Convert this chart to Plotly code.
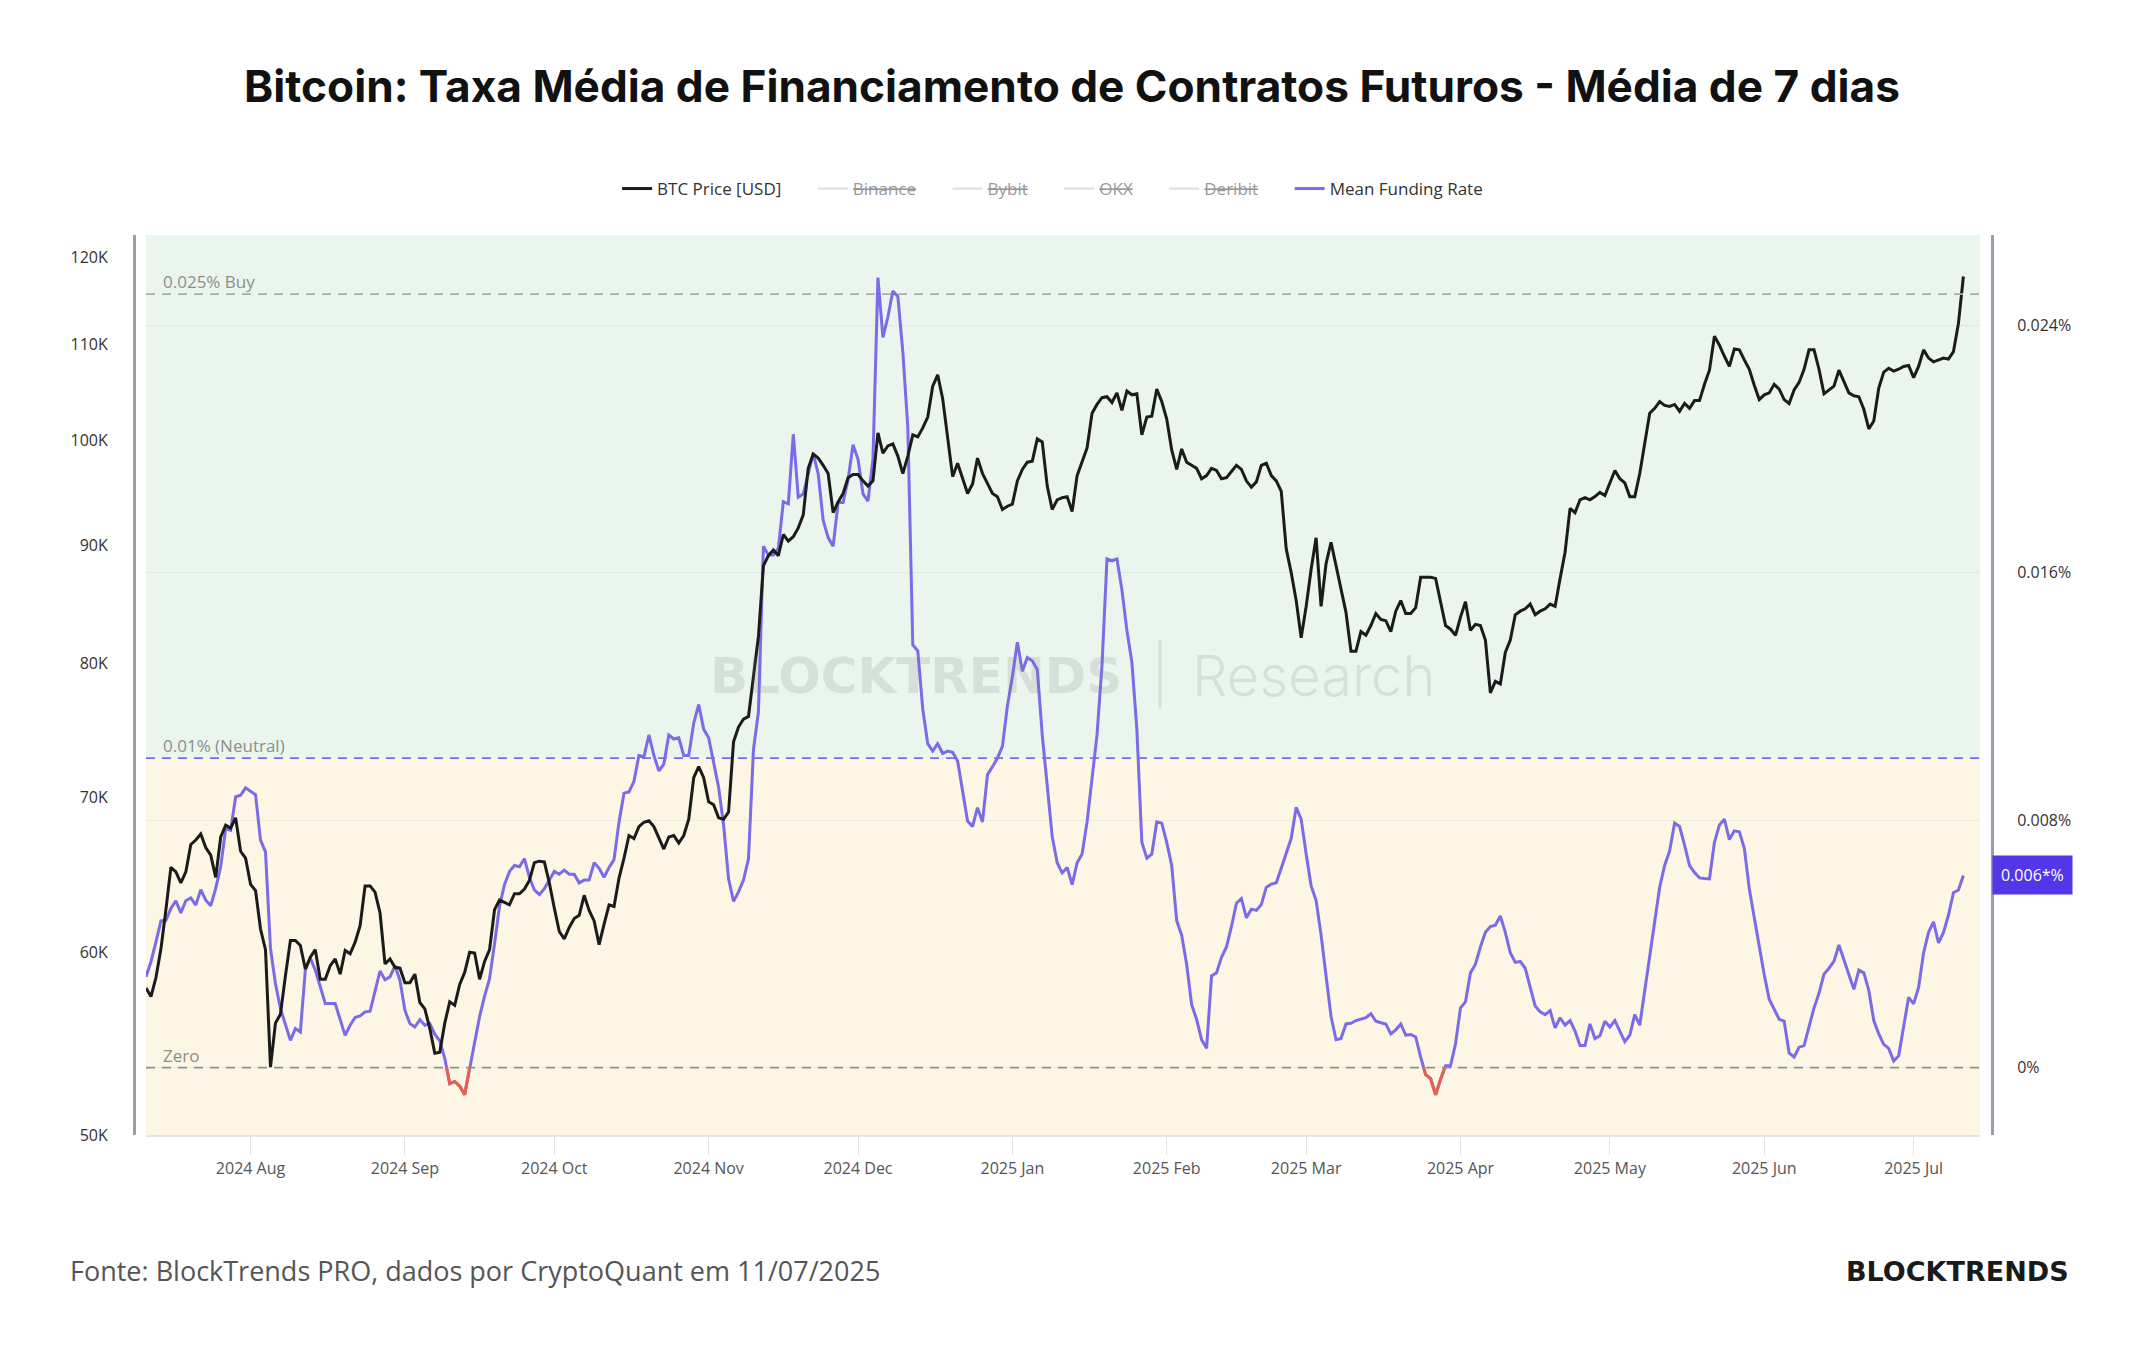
import math
import pandas as pd
import plotly.graph_objects as go

# ---------------- data ----------------
start_date = "2024-07-11"

btc_price_k = [
    57.9, 57.4, 58.5, 60.2, 62.6, 65.3, 65.0, 64.3, 65.0, 66.8,
    67.1, 67.5, 66.6, 66.1, 64.65, 67.3, 68.1, 67.9, 68.6, 66.35,
    65.9, 64.2, 63.8, 61.4, 60.15, 53.5, 55.9, 56.4, 58.6, 60.7,
    60.7, 60.4, 59.0, 59.7, 60.15, 58.4, 58.4, 59.2, 59.6, 58.7,
    60.1, 59.9, 60.6, 61.6, 64.1, 64.1, 63.7, 62.4, 59.3, 59.6,
    59.1, 59.05, 58.2, 58.2, 58.7, 57.06, 56.7, 55.6, 54.25, 54.3,
    55.9, 57.1, 56.9, 58.1, 58.8, 60.0, 59.95, 58.4, 59.45, 60.15,
    62.6, 63.2, 63.05, 62.9, 63.6, 63.6, 63.9, 64.45, 65.6, 65.7,
    65.65, 64.3, 62.7, 61.25, 60.8, 61.5, 62.05, 62.25, 63.5, 62.55,
    61.9, 60.45, 61.7, 62.9, 62.8, 64.6, 65.9, 67.4, 67.2, 68.0,
    68.3, 68.4, 68.0, 67.3, 66.5, 67.3, 67.4, 66.9, 67.4, 68.5,
    71.4, 72.2, 71.4, 69.7, 69.5, 68.6, 68.5, 69.0, 74.0, 75.1,
    75.7, 75.9, 78.85, 82.2, 88.2, 89.1, 89.6, 89.1, 91.0, 90.4,
    90.8, 91.6, 92.8, 97.2, 98.6, 98.2, 97.5, 96.7, 93.0, 94.0,
    94.8, 96.3, 96.6, 96.6, 96.0, 95.5, 96.0, 100.7, 98.7, 99.4,
    99.6, 98.4, 96.7, 98.4, 100.5, 100.3, 101.2, 102.3, 105.5, 106.7,
    104.2, 100.3, 96.4, 97.7, 96.3, 94.8, 95.7, 98.2, 96.7, 95.7,
    94.8, 94.5, 93.3, 93.6, 93.8, 96.0, 97.1, 97.8, 97.9, 100.1,
    99.8, 95.5, 93.3, 94.2, 94.4, 94.5, 93.1, 96.5, 97.8, 99.2,
    102.7, 103.6, 104.3, 104.4, 103.8, 104.8, 103.0, 105.0, 104.6, 104.7,
    100.5, 102.3, 102.4, 105.2, 103.9, 102.1, 99.0, 97.1, 99.1, 97.8,
    97.5, 97.2, 96.2, 96.5, 97.2, 97.0, 96.2, 96.3, 96.9, 97.5,
    97.1, 96.0, 95.4, 95.9, 97.5, 97.7, 96.5, 96.0, 95.0, 89.7,
    87.6, 85.2, 82.1, 84.7, 87.9, 90.7, 84.7, 88.4, 90.3, 88.2,
    86.1, 84.2, 81.0, 81.0, 82.6, 82.3, 83.1, 84.1, 83.6, 83.5,
    82.6, 84.3, 85.2, 84.1, 84.1, 84.6, 87.2, 87.2, 87.2, 87.1,
    85.0, 83.1, 82.8, 82.3, 83.8, 85.1, 82.7, 83.2, 83.1, 81.9,
    77.7, 78.6, 78.4, 80.9, 81.9, 84.0, 84.3, 84.5, 84.9, 84.0,
    84.3, 84.5, 84.9, 84.7, 87.1, 89.4, 93.4, 93.0, 94.2, 94.4,
    94.2, 94.5, 94.9, 94.6, 95.8, 97.0, 96.2, 95.8, 94.5, 94.5,
    96.7, 99.8, 102.7, 103.2, 103.9, 103.5, 103.4, 103.6, 102.9, 103.7,
    103.2, 104.0, 104.0, 105.7, 107.2, 110.9, 109.9, 108.7, 107.6, 109.5,
    109.4, 108.3, 107.3, 105.6, 104.1, 104.6, 104.8, 105.7, 105.2, 104.1,
    103.7, 105.1, 105.9, 107.3, 109.4, 109.4, 107.3, 104.7, 105.1, 105.5,
    107.2, 105.9, 104.8, 104.5, 104.4, 103.1, 101.1, 101.9, 105.3, 107.0,
    107.4, 107.1, 107.3, 107.6, 107.7, 106.4, 107.6, 109.4, 108.5, 108.1,
    108.3, 108.5, 108.4, 109.2, 112.3, 117.7,
]

mean_funding_rate = [  # percent
    0.00293, 0.00342, 0.00406, 0.00474, 0.00476, 0.00514, 0.00539, 0.00500, 0.00539, 0.00548,
    0.00525, 0.00575, 0.00541, 0.00523, 0.00579, 0.00649, 0.00772, 0.00767, 0.00875, 0.00880,
    0.00904, 0.00893, 0.00882, 0.00735, 0.00697, 0.00385, 0.00271, 0.00191, 0.00142, 0.00088,
    0.00126, 0.00115, 0.00315, 0.00354, 0.00315, 0.00261, 0.00207, 0.00207, 0.00207, 0.00155,
    0.00104, 0.00137, 0.00162, 0.00167, 0.00180, 0.00182, 0.00245, 0.00312, 0.00284, 0.00293,
    0.00329, 0.00282, 0.00185, 0.00142, 0.00131, 0.00155, 0.00137, 0.00142, 0.00108, 0.00086,
    0.00030, -0.00052, -0.00045, -0.00060, -0.00088, 0.00000, 0.00084, 0.00165, 0.00231, 0.00287,
    0.00400, 0.00522, 0.00591, 0.00634, 0.00653, 0.00649, 0.00675, 0.00615, 0.00574, 0.00559,
    0.00578, 0.00606, 0.00634, 0.00625, 0.00638, 0.00625, 0.00625, 0.00597, 0.00606, 0.00606,
    0.00662, 0.00644, 0.00615, 0.00647, 0.00672, 0.00794, 0.00887, 0.00891, 0.00925, 0.01009,
    0.01004, 0.01075, 0.01009, 0.00959, 0.00981, 0.01075, 0.01062, 0.01066, 0.01009, 0.01009,
    0.01113, 0.01173, 0.01094, 0.01066, 0.00991, 0.00906, 0.00784, 0.00610, 0.00537, 0.00568,
    0.00606, 0.00675, 0.01028, 0.01150, 0.01685, 0.01657, 0.01657, 0.01679, 0.01829, 0.01822,
    0.02047, 0.01844, 0.01854, 0.01919, 0.01985, 0.01919, 0.01769, 0.01713, 0.01685, 0.01826,
    0.01826, 0.01901, 0.02013, 0.01966, 0.01854, 0.01831, 0.01966, 0.02553, 0.02360, 0.02426,
    0.02510, 0.02492, 0.02313, 0.02069, 0.01366, 0.01347, 0.01159, 0.01047, 0.01023, 0.01047,
    0.01015, 0.01023, 0.01019, 0.00991, 0.00897, 0.00797, 0.00779, 0.00840, 0.00794, 0.00947,
    0.00972, 0.01000, 0.01038, 0.01169, 0.01263, 0.01375, 0.01281, 0.01325, 0.01315, 0.01287,
    0.01075, 0.00906, 0.00747, 0.00662, 0.00629, 0.00647, 0.00591, 0.00662, 0.00690, 0.00794,
    0.00944, 0.01075, 0.01300, 0.01644, 0.01638, 0.01644, 0.01544, 0.01413, 0.01310, 0.01094,
    0.00728, 0.00677, 0.00690, 0.00794, 0.00790, 0.00728, 0.00653, 0.00475, 0.00428, 0.00334,
    0.00203, 0.00156, 0.00090, 0.00062, 0.00296, 0.00306, 0.00356, 0.00390, 0.00456, 0.00531,
    0.00546, 0.00484, 0.00512, 0.00508, 0.00527, 0.00583, 0.00593, 0.00597, 0.00644, 0.00690,
    0.00741, 0.00841, 0.00803, 0.00690, 0.00587, 0.00540, 0.00428, 0.00296, 0.00165, 0.00090,
    0.00094, 0.00141, 0.00143, 0.00152, 0.00156, 0.00161, 0.00174, 0.00150, 0.00145, 0.00141,
    0.00109, 0.00122, 0.00141, 0.00105, 0.00107, 0.00099, 0.00034, -0.00023, -0.00036, -0.00088,
    -0.00038, 0.00006, 0.00006, 0.00077, 0.00193, 0.00212, 0.00306, 0.00334, 0.00390, 0.00437,
    0.00456, 0.00460, 0.00490, 0.00437, 0.00371, 0.00340, 0.00343, 0.00321, 0.00259, 0.00199,
    0.00180, 0.00171, 0.00184, 0.00128, 0.00161, 0.00137, 0.00152, 0.00118, 0.00071, 0.00071,
    0.00141, 0.00094, 0.00103, 0.00150, 0.00131, 0.00152, 0.00118, 0.00084, 0.00105, 0.00171,
    0.00137, 0.00250, 0.00362, 0.00475, 0.00583, 0.00653, 0.00700, 0.00790, 0.00779, 0.00719,
    0.00653, 0.00630, 0.00613, 0.00611, 0.00610, 0.00728, 0.00784, 0.00803, 0.00737, 0.00765,
    0.00762, 0.00709, 0.00578, 0.00484, 0.00390, 0.00300, 0.00221, 0.00188, 0.00156, 0.00150,
    0.00047, 0.00034, 0.00066, 0.00071, 0.00137, 0.00193, 0.00240, 0.00302, 0.00321, 0.00343,
    0.00396, 0.00349, 0.00306, 0.00253, 0.00315, 0.00306, 0.00250, 0.00152, 0.00109, 0.00075,
    0.00062, 0.00021, 0.00038, 0.00137, 0.00227, 0.00206, 0.00259, 0.00371, 0.00437, 0.00471,
    0.00403, 0.00437, 0.00493, 0.00565, 0.00574, 0.00621,
]

price_tick_vals = [50000, 60000, 70000, 80000, 90000, 100000, 110000, 120000]
price_tick_text = ["50K", "60K", "70K", "80K", "90K", "100K", "110K", "120K"]
fr_tick_vals = [0, 0.008, 0.016, 0.024]
fr_tick_text = ["0%", "0.008%", "0.016%", "0.024%"]
buy_level = 0.025
neutral_level = 0.01
hidden_exchanges = ["Binance", "Bybit", "OKX", "Deribit"]
last_label = "0.006*%"

title_text = "Bitcoin: Taxa Média de Financiamento de Contratos Futuros - Média de 7 dias"
source_text = "Fonte: BlockTrends PRO, dados por CryptoQuant em 11/07/2025"

# ---------------- derived ----------------
dates = pd.date_range(start_date, periods=len(btc_price_k), freq="D")
price = [v * 1000 for v in btc_price_k]

# negative (red) portions of the funding rate line
neg_x, neg_y = [], []
for i in range(len(mean_funding_rate) - 1):
    a, b = mean_funding_rate[i], mean_funding_rate[i + 1]
    if a >= 0 and b >= 0:
        continue
    x0, x1 = dates[i], dates[i + 1]
    if a < 0 and b < 0:
        seg = [(x0, a), (x1, b)]
    elif a < 0:
        t = a / (a - b)
        seg = [(x0, a), (x0 + (x1 - x0) * t, 0.0)]
    else:
        t = a / (a - b)
        seg = [(x0 + (x1 - x0) * t, 0.0), (x1, b)]
    if neg_x and neg_x[-1] is not None and neg_x[-1] == seg[0][0]:
        seg = seg[1:]
    elif neg_x:
        neg_x.append(None)
        neg_y.append(None)
    for px, py in seg:
        neg_x.append(px)
        neg_y.append(py)

# ---------------- geometry ----------------
W, H = 2144, 1350
ML, MR, MT, MB = 120, 140, 235, 215
PW = W - ML - MR
plot_left, plot_right = 146, 1980
left_axis_x, right_axis_x = 134, 1992

def px_to_paper_x(px):
    return (px - ML) / PW

def px_to_paper_y(py):
    return (H - MB - py) / (H - MT - MB)

fr_range = [-0.00218, 0.02691]
price_range = [math.log10(50000), math.log10(122670)]
x_range = [pd.Timestamp("2024-07-11"), pd.Timestamp("2025-07-14 08:00")]

PURPLE = "#7b6be6"
GREEN_BG = "#eaf5ee"
YELLOW_BG = "#fdf6e5"
AXIS_COL = "#9c9aab"
FONT = "Open Sans"
GAP = "\u00a0" * 6

fig = go.Figure()

# hidden exchanges (legend only)
for k, name in enumerate(hidden_exchanges):
    fig.add_trace(go.Scatter(
        x=[dates[0]], y=[None], mode="lines",
        name='<span style="text-decoration:line-through">%s</span>%s' % (name, GAP),
        line=dict(color="#c8c8c8", width=2.5),
        visible="legendonly", yaxis="y", legendrank=2 + k,
    ))

fig.add_trace(go.Scatter(
    x=dates, y=mean_funding_rate, mode="lines", name="Mean Funding Rate",
    line=dict(color=PURPLE, width=3), yaxis="y", legendrank=6,
))
fig.add_trace(go.Scatter(
    x=neg_x, y=neg_y, mode="lines", showlegend=False,
    line=dict(color="#e8604c", width=3), yaxis="y",
))
fig.add_trace(go.Scatter(
    x=dates, y=price, mode="lines", name="BTC Price [USD]" + GAP,
    line=dict(color="#1b1b1b", width=3), yaxis="y2", legendrank=1,
))

# background zones
fig.add_shape(type="rect", xref="x domain", yref="y", x0=0, x1=1,
              y0=neutral_level, y1=fr_range[1], fillcolor=GREEN_BG,
              line=dict(width=0), layer="below")
fig.add_shape(type="rect", xref="x domain", yref="y", x0=0, x1=1,
              y0=fr_range[0], y1=neutral_level, fillcolor=YELLOW_BG,
              line=dict(width=0), layer="below")

# reference lines
fig.add_shape(type="line", xref="x domain", yref="y", x0=0, x1=1,
              y0=buy_level, y1=buy_level,
              line=dict(color="#a9b0ab", width=1.6, dash="9px,7px"))
fig.add_shape(type="line", xref="x domain", yref="y", x0=0, x1=1,
              y0=neutral_level, y1=neutral_level,
              line=dict(color=PURPLE, width=1.8, dash="9px,7px"))
fig.add_shape(type="line", xref="x domain", yref="y", x0=0, x1=1,
              y0=0, y1=0,
              line=dict(color="#8e8e8e", width=1.8, dash="9px,7px"))

label_font = dict(family=FONT, size=17, color="#8a8f8c")
for txt, lvl in [("0.025% Buy", buy_level), ("0.01% (Neutral)", neutral_level), ("Zero", 0)]:
    fig.add_annotation(xref="x domain", yref="y", x=0.008, y=lvl, text=txt,
                       showarrow=False, xanchor="left", yanchor="bottom",
                       font=label_font, yshift=-1)

# watermark
fig.add_annotation(xref="paper", yref="paper", x=px_to_paper_x(916), y=px_to_paper_y(676),
                   text="<b>BLOCKTRENDS</b>", showarrow=False,
                   font=dict(family="DejaVu Sans", size=50, color="rgba(120,125,122,0.17)"))
fig.add_annotation(xref="paper", yref="paper", x=px_to_paper_x(1313), y=px_to_paper_y(676),
                   text="Research", showarrow=False,
                   font=dict(family="Inter", size=56, weight=300, color="rgba(120,125,122,0.17)"))
fig.add_shape(type="line", xref="paper", yref="paper",
              x0=px_to_paper_x(1160), x1=px_to_paper_x(1160),
              y0=px_to_paper_y(640), y1=px_to_paper_y(708),
              line=dict(color="rgba(120,125,122,0.17)", width=3))

# last value label
fig.add_annotation(xref="paper", yref="y", x=px_to_paper_x(right_axis_x), y=mean_funding_rate[-1],
                   text=last_label, showarrow=False, xanchor="left", yanchor="middle",
                   bgcolor="#5336e8", borderpad=8,
                   font=dict(family=FONT, size=16, color="white"))

# footer
fig.add_annotation(xref="paper", yref="paper", x=px_to_paper_x(68), y=px_to_paper_y(1270),
                   text=source_text, showarrow=False, xanchor="left", yanchor="middle",
                   font=dict(family=FONT, size=27, color="#555555"))
fig.add_annotation(xref="paper", yref="paper", x=px_to_paper_x(2071), y=px_to_paper_y(1271),
                   text="<b>BLOCKTRENDS</b>", showarrow=False, xanchor="right", yanchor="middle",
                   font=dict(family="DejaVu Sans", size=27, color="#1a1a1a"))

fig.update_layout(
    width=W, height=H,
    margin=dict(l=ML, r=MR, t=MT, b=MB),
    paper_bgcolor="white", plot_bgcolor="rgba(0,0,0,0)",
    title=dict(text="<b>" + title_text + "</b>", x=px_to_paper_x(1072), xref="paper", xanchor="center",
               y=1 - 87 / H, yanchor="middle",
               font=dict(family="Inter", size=44.2, color="#111111")),
    showlegend=True,
    legend=dict(orientation="h", x=0.495, xanchor="center", y=px_to_paper_y(189), yanchor="middle",
                font=dict(family=FONT, size=17, color="#333333"), bgcolor="rgba(0,0,0,0)",
                itemwidth=30),
    xaxis=dict(
        domain=[px_to_paper_x(plot_left), px_to_paper_x(plot_right)],
        range=x_range, type="date",
        tick0="2024-08-01", dtick="M1", tickformat="%Y %b",
        showgrid=False, zeroline=False,
        showline=True, linecolor="#e4e4e4", linewidth=2,
        ticks="outside", ticklen=18, tickcolor="#e2e2e2", tickwidth=1,
        tickfont=dict(family=FONT, size=16, color="#555555"),
        anchor="y",
    ),
    yaxis=dict(
        range=fr_range, side="right", anchor="free", position=px_to_paper_x(right_axis_x),
        tickvals=fr_tick_vals, ticktext=fr_tick_text,
        showgrid=True, gridcolor="rgba(0,0,0,0.045)", gridwidth=1,
        zeroline=False, showline=True, linecolor=AXIS_COL, linewidth=3,
        ticks="", ticklabelstandoff=20,
        tickfont=dict(family=FONT, size=16, color="#333333"),
    ),
    yaxis2=dict(
        type="log", range=price_range, side="left", overlaying="y",
        anchor="free", position=px_to_paper_x(left_axis_x),
        tickvals=price_tick_vals, ticktext=price_tick_text,
        showgrid=False, zeroline=False, showline=True, linecolor=AXIS_COL, linewidth=3,
        ticks="", ticklabelstandoff=22,
        tickfont=dict(family=FONT, size=16, color="#333333"),
    ),
)

fig.write_html("out.html")
